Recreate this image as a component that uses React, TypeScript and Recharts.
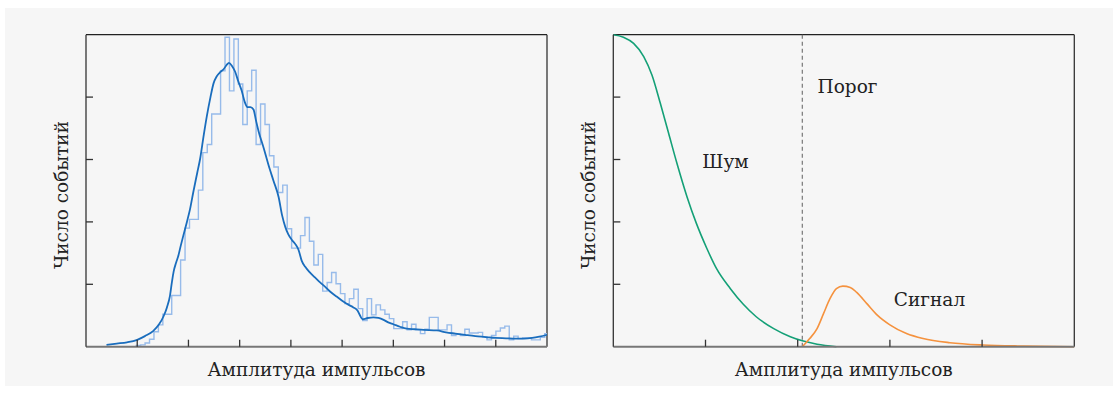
import { LineChart, Line, XAxis, YAxis, ReferenceLine } from "recharts"

// left panel: histogram of pulse amplitudes (bin heights) + smoothed curve
const binStart = 0.98
const binWidth = 0.0867
const histCounts = [
  0.02, 0.03, 0.06, 0.12, 0.24, 0.35, 0.52, 0.52, 0.82, 0.82,
  1.39, 1.9, 2.04, 2.04, 2.51, 3.11, 3.24, 3.73, 3.73, 4.42,
  4.96, 4.1, 4.93, 4.21, 3.56, 4.1, 4.43, 3.24, 3.89, 3.56,
  3.06, 2.88, 2.47, 2.59, 1.89, 1.58, 1.58, 1.78, 2.07, 1.69,
  1.31, 1.48, 0.89, 1.03, 1.19, 1.01, 0.85, 0.69, 0.77, 0.92,
  0.61, 0.42, 0.77, 0.51, 0.67, 0.59, 0.52, 0.45, 0.29, 0.29,
  0.4, 0.27, 0.36, 0.27, 0.21, 0.28, 0.47, 0.47, 0.27, 0.27,
  0.35, 0.18, 0.2, 0.18, 0.28, 0.22, 0.22, 0.23, 0.16, 0.11,
  0.18, 0.25, 0.3, 0.33, 0.11, 0.17, 0.13, 0.14, 0.14, 0.11,
  0.11, 0.15, 0.21,
]

const kdePoints: [number, number][] = [
  [0.4, 0.03], [0.6, 0.05], [0.8, 0.07], [1.0, 0.11], [1.15, 0.17],
  [1.31, 0.25], [1.42, 0.35], [1.51, 0.48], [1.58, 0.63], [1.64, 0.82],
  [1.68, 1.05], [1.71, 1.2], [1.76, 1.35], [1.8, 1.45], [1.85, 1.62],
  [1.9, 1.78], [1.97, 2.0], [2.03, 2.2], [2.1, 2.5], [2.17, 2.78],
  [2.23, 3.02], [2.3, 3.4], [2.36, 3.7], [2.43, 4.0], [2.49, 4.22],
  [2.55, 4.33], [2.62, 4.4], [2.69, 4.45], [2.75, 4.52], [2.79, 4.55],
  [2.85, 4.5], [2.91, 4.41], [2.97, 4.26], [3.04, 4.1], [3.1, 3.92],
  [3.15, 3.84], [3.21, 3.84], [3.27, 3.8], [3.32, 3.62], [3.37, 3.45],
  [3.47, 3.18], [3.56, 2.92], [3.66, 2.66], [3.76, 2.4], [3.83, 2.1],
  [3.89, 1.92], [3.95, 1.8], [4.02, 1.71], [4.09, 1.64], [4.15, 1.55],
  [4.21, 1.38], [4.28, 1.28], [4.37, 1.19], [4.47, 1.11], [4.57, 1.03],
  [4.67, 0.96], [4.77, 0.88], [4.9, 0.8], [5.03, 0.72], [5.13, 0.67],
  [5.22, 0.63], [5.3, 0.58], [5.35, 0.5], [5.4, 0.44], [5.5, 0.46],
  [5.61, 0.47], [5.71, 0.46], [5.81, 0.43], [5.9, 0.39], [6.0, 0.36],
  [6.13, 0.32], [6.26, 0.29], [6.42, 0.28], [6.59, 0.27], [6.85, 0.26],
  [7.03, 0.23], [7.21, 0.21], [7.4, 0.19], [7.6, 0.17], [7.8, 0.155],
  [7.99, 0.14], [8.2, 0.135], [8.38, 0.13], [8.55, 0.13], [8.71, 0.14],
  [8.85, 0.16], [9.0, 0.19],
]

// right panel: noise and signal distributions
const noisePoints: [number, number][] = [
  [0, 5.0], [0.11, 4.96], [0.22, 4.86], [0.33, 4.65], [0.42, 4.35],
  [0.51, 3.9], [0.6, 3.42], [0.69, 2.94], [0.8, 2.4], [0.9, 1.98],
  [1.01, 1.59], [1.12, 1.25], [1.27, 0.93], [1.41, 0.68], [1.55, 0.48],
  [1.74, 0.29], [1.92, 0.16], [2.06, 0.09], [2.21, 0.04], [2.42, 0.0],
]

const signalPoints: [number, number][] = [
  [2.05, 0], [2.13, 0.13], [2.21, 0.29], [2.28, 0.53], [2.35, 0.77],
  [2.42, 0.93], [2.49, 0.97], [2.57, 0.95], [2.64, 0.87], [2.75, 0.69],
  [2.86, 0.51], [3.0, 0.35], [3.18, 0.21], [3.36, 0.13], [3.65, 0.064],
  [4.01, 0.027], [4.45, 0.01], [5.0, 0.0],
]

const threshold = 2.05
const leftTicks = [1, 2, 3, 4, 5, 6, 7, 8]
const rightTicks = [1, 2, 3, 4]
const yTicks = [1, 2, 3, 4]

const xTitle = "Амплитуда импульсов"
const yTitle = "Число событий"

const font = "'DejaVu Serif', serif"
const textColor = "#222"

const histData = [
  { x: binStart, y: 0 },
  ...histCounts.map((v, i) => ({ x: binStart + i * binWidth, y: v })),
  { x: 9, y: histCounts[histCounts.length - 1] },
]
const kdeData = kdePoints.map(([x, y]) => ({ x, y }))
const noiseData = noisePoints.map(([x, y]) => ({ x, y }))
const signalData = signalPoints.map(([x, y]) => ({ x, y }))

const W = 560
const H = 393
const plotTop = 34.7
const plotBottom = 346.7

// no tick labels, only inward tick marks
const noLabel = () => <g />

function axes(xMax: number, xTicks: number[]) {
  return [
    <XAxis
      key="x"
      type="number"
      dataKey="x"
      domain={[0, xMax]}
      ticks={xTicks}
      allowDataOverflow
      height={1}
      tick={noLabel}
      tickSize={-7}
      axisLine={{ stroke: "#777", strokeWidth: 2 }}
      tickLine={{ stroke: "#333", strokeWidth: 1.3 }}
    />,
    <YAxis
      key="y"
      type="number"
      domain={[0, 5]}
      ticks={yTicks}
      width={1}
      tick={noLabel}
      tickSize={-7}
      axisLine={{ stroke: "#333", strokeWidth: 1.3 }}
      tickLine={{ stroke: "#333", strokeWidth: 1.3 }}
    />,
    <ReferenceLine key="top" y={5} stroke="#222" strokeWidth={1.3} />,
    <ReferenceLine key="right" x={xMax} stroke="#333" strokeWidth={1.3} />,
  ]
}

function Label({ x, y, text, rotate = false }: { x: number; y: number; text: string; rotate?: boolean }) {
  return (
    <div
      style={{
        position: "absolute",
        left: x,
        top: y,
        transform: `translate(-50%, -50%)${rotate ? " rotate(-90deg)" : ""}`,
        whiteSpace: "nowrap",
        fontFamily: font,
        fontSize: 18.5,
        lineHeight: 1,
        color: textColor,
      }}
    >
      {text}
    </div>
  )
}

export default function App() {
  return (
    <div style={{ position: "absolute", left: 0, top: 0, width: 1119, height: 393, background: "#fff" }}>
      <div style={{ position: "absolute", left: 5, top: 8, width: 1108, height: 378, background: "#f6f6f6" }} />

      <div style={{ position: "absolute", left: 0, top: 0 }}>
        <LineChart
          width={W}
          height={H}
          margin={{ top: plotTop, left: 85, right: W - 547, bottom: H - plotBottom - 1 }}
        >
          {axes(9, leftTicks)}
          <Line
            data={histData}
            dataKey="y"
            type="stepAfter"
            stroke="#97bbea"
            strokeWidth={1.4}
            dot={false}
            isAnimationActive={false}
          />
          <Line
            data={kdeData}
            dataKey="y"
            type="monotone"
            stroke="#1a6dbd"
            strokeWidth={1.8}
            dot={false}
            isAnimationActive={false}
          />
        </LineChart>
      </div>

      <div style={{ position: "absolute", left: 560, top: 0 }}>
        <LineChart
          width={W - 1}
          height={H}
          margin={{ top: plotTop, left: 613.3 - 560 - 1, right: 559 - (1074.3 - 560), bottom: H - plotBottom - 1 }}
        >
          {axes(5, rightTicks)}
          <ReferenceLine x={threshold} stroke="#777" strokeWidth={1.2} strokeDasharray="4 3" />
          <Line
            data={noiseData}
            dataKey="y"
            type="monotone"
            stroke="#14a077"
            strokeWidth={1.6}
            dot={false}
            isAnimationActive={false}
          />
          <Line
            data={signalData}
            dataKey="y"
            type="monotone"
            stroke="#f5923e"
            strokeWidth={1.6}
            dot={false}
            isAnimationActive={false}
          />
        </LineChart>
      </div>

      <Label x={316.5} y={369.5} text={xTitle} />
      <Label x={843.8} y={369.5} text={xTitle} />
      <Label x={62} y={195} text={yTitle} rotate />
      <Label x={589} y={195} text={yTitle} rotate />
      <Label x={847.5} y={87} text="Порог" />
      <Label x={725.5} y={161.5} text="Шум" />
      <Label x={929.5} y={300} text="Сигнал" />
    </div>
  )
}
